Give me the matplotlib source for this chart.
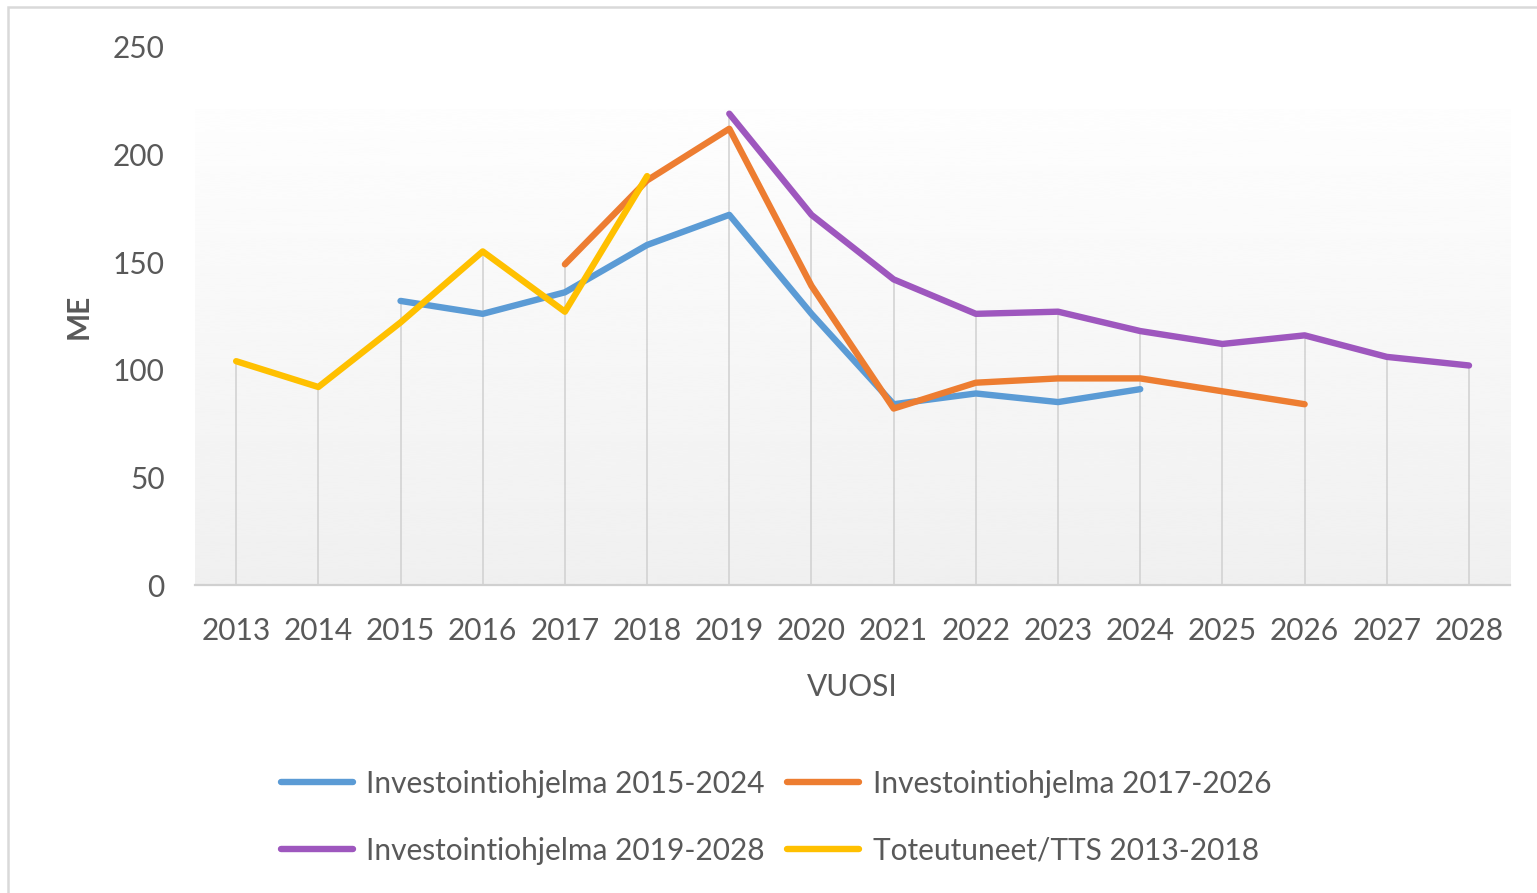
import numpy as np
import matplotlib.pyplot as plt
from matplotlib.lines import Line2D
from matplotlib.patches import Rectangle

plt.rcParams['font.family'] = ['Lato', 'DejaVu Sans']

years = list(range(2013, 2029))
nan = np.nan

# ME per year, NaN where a programme has no value
ip_2015 = [nan, nan, 132, 126, 136, 158, 172, 126, 84, 89, 85, 91, nan, nan, nan, nan]
ip_2017 = [nan, nan, nan, nan, 149, 188, 212, 139, 82, 94, 96, 96, 90, 84, nan, nan]
ip_2019 = [nan, nan, nan, nan, nan, nan, 219, 172, 142, 126, 127, 118, 112, 116, 106, 102]
toteutuneet = [104, 92, 122, 155, 127, 190, nan, nan, nan, nan, nan, nan, nan, nan, nan, nan]

series_names = ['Investointiohjelma 2015-2024', 'Investointiohjelma 2017-2026',
                'Investointiohjelma 2019-2028', 'Toteutuneet/TTS 2013-2018']
series_colors = ['#5B9BD5', '#ED7D31', '#9E57BE', '#FFC000']
all_series = [ip_2015, ip_2017, ip_2019, toteutuneet]

text_col = '#595959'

fig = plt.figure(figsize=(15.37, 8.93), dpi=100)
ax = fig.add_axes([0.1269, 0.3449, 0.8556, 0.6025])

# light gradient background like the excel plot area
grad = np.linspace(0.94, 0.995, 256).reshape(-1, 1)
ax.imshow(grad, cmap='gray', vmin=0, vmax=1, origin='lower', aspect='auto',
          extent=[2012.5, 2028.5, 0, 221], zorder=0, interpolation='bicubic')

# drop lines from the axis up to the highest point of each year
tops = np.nanmax(np.array(all_series, dtype=float), axis=0)
ax.vlines(years, 0, tops, color='#d0d0d0', lw=1.1, zorder=1)

for vals, name, col in zip(all_series, series_names, series_colors):
    ax.plot(years, vals, color=col, lw=4.6, solid_capstyle='round',
            solid_joinstyle='round', label=name, zorder=3)

ax.set_xlim(2012.5, 2028.5)
ax.set_ylim(0, 250)
ax.set_yticks([0, 50, 100, 150, 200, 250])
ax.set_xticks(years)
for s in ['top', 'right', 'left']:
    ax.spines[s].set_visible(False)
ax.spines['bottom'].set_color('#d0d0d0')
ax.spines['bottom'].set_linewidth(1.6)
ax.tick_params(axis='both', length=0, labelsize=21.5, colors=text_col)
ax.tick_params(axis='y', pad=22)
ax.tick_params(axis='x', pad=23)
ax.set_xlabel('VUOSI', fontsize=21.5, color=text_col, labelpad=20)
ax.set_ylabel('ME', fontsize=21.5, color=text_col, fontweight='bold', labelpad=14)

# legend is filled column-wise, so order handles to read row by row
order = [0, 2, 1, 3]
handles = [Line2D([], [], color=series_colors[i], lw=4.6, solid_capstyle='round') for i in order]
labels = [series_names[i] for i in order]
fig.legend(handles, labels, loc='upper left', bbox_to_anchor=(0.183, 0.138),
           ncol=2, frameon=False, fontsize=21.5, labelcolor=text_col,
           handlelength=2.4, handletextpad=0.45, columnspacing=0.75,
           labelspacing=1.3, borderaxespad=0, borderpad=0)

# chart frame
fig.patches.append(Rectangle((8 / 1537, -0.1), 1.2, 1.1 - 7 / 893, transform=fig.transFigure,
                             fill=False, edgecolor='#d9d9d9', lw=1.8))

fig.savefig('out.png', dpi=100)
